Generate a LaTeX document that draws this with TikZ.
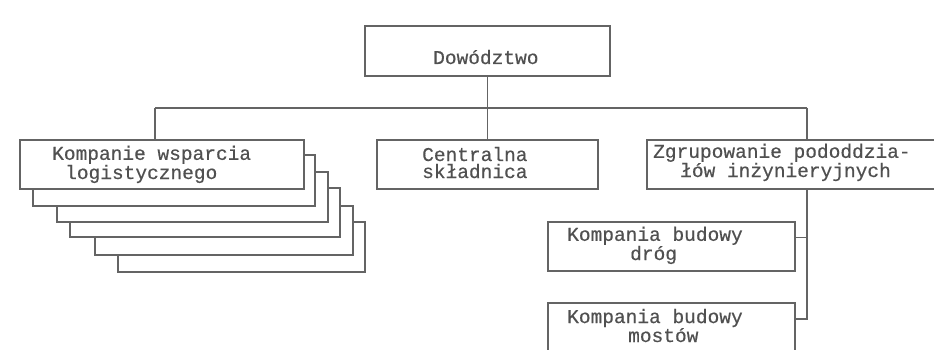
\documentclass[tikz,border=0pt]{standalone}
\usepackage{fontspec}
\newfontfamily\monofam[FakeBold=0.4]{Liberation Mono}
\definecolor{linec}{HTML}{646464}
\definecolor{textc}{HTML}{505050}
\begin{document}
\begin{tikzpicture}[x=1pt,y=-1pt,
  box/.style={draw=linec, line width=1.7pt, fill=white, rectangle, inner sep=0pt},
  conn/.style={draw=linec, line width=1.7pt},
  lbl/.style={text=textc, font=\monofam\fontsize{19.5}{17}\selectfont, inner sep=0pt, anchor=base west, align=left}]
\useasboundingbox (0,0) rectangle (934,350);
\clip (0,0) rectangle (934,350);
\fill[white] (0,0) rectangle (934,350);

% top box
\node[box, minimum width=245pt, minimum height=50pt] (top) at (487.5,51) {};
\node[lbl] (ttop) at (433,64) {Dowództwo};

% stacked boxes, back to front
\node[box, minimum width=247pt, minimum height=50pt] (kw6) at (241.5,247) {};
\node[box, minimum width=258pt, minimum height=49pt] (kw5) at (224,230.5) {};
\node[box, minimum width=270pt, minimum height=49pt] (kw4) at (205,212.5) {};
\node[box, minimum width=271pt, minimum height=50pt] (kw3) at (192.5,197) {};
\node[box, minimum width=282pt, minimum height=51pt] (kw2) at (174,180.5) {};
\node[box, minimum width=284pt, minimum height=49pt] (kw1) at (162,164.5) {};
\node[lbl] (tkw) at (52,179) {Kompanie wsparcia\\\hspace*{13pt}logistycznego};

% central
\node[box, minimum width=221pt, minimum height=49pt] (cs) at (487.5,164.5) {};
\node[lbl] (tcs) at (422,178) {Centralna\\składnica};

% engineering group
\node[box, minimum width=293pt, minimum height=49pt] (zg) at (793.5,164.5) {};
\node[lbl] (tzg) at (653,177) {Zgrupowanie pododdzia-\\\hspace*{27pt}łów inżynieryjnych};

% road company
\node[box, minimum width=247pt, minimum height=49pt] (kd) at (671.5,246.5) {};
\node[lbl] (tkd) at (567,260) {Kompania budowy\\\hspace*{63pt}dróg};

% bridge company
\node[box, minimum width=247pt, minimum height=49pt] (km) at (671.5,327.5) {};
\node[lbl] (tkm) at (567,342) {Kompania budowy\\\hspace*{61pt}mostów};

% connectors
\coordinate (bus) at (487.5,108);
\coordinate (bl) at (155,108);
\coordinate (br) at (807,108);
\coordinate (kdt) at ([yshift=9pt]kd.east);
\coordinate (kmt) at ([yshift=8.5pt]km.east);
\draw[conn] (top.south) -- (bus);
\draw[conn] (bl) -- (br);
\draw[conn] (bl) -- (bl |- kw1.north);
\draw[conn] (bus) -- (cs.north);
\draw[conn] (br) -- (br |- zg.north);
\draw[conn] (br |- zg.south) -- (br |- kmt) -- (kmt);
\draw[conn] (kdt) -- (br |- kdt);
\end{tikzpicture}
\end{document}
